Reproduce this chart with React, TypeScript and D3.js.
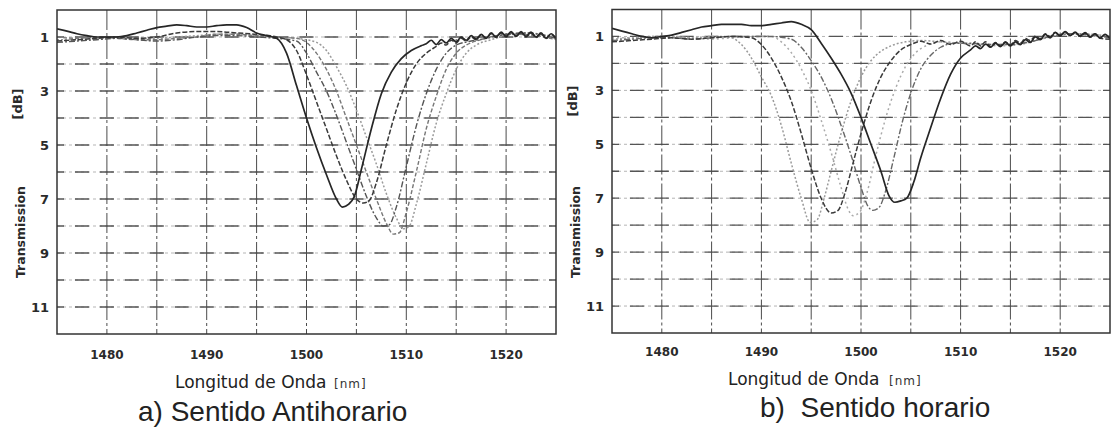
import React from "react";
import * as d3 from "d3";

// ---------- axes data ----------
const wavelengthDomain: [number, number] = [1475, 1525];
const transmissionDomain: [number, number] = [0, 12];
const wavelengthTicks = [1480, 1490, 1500, 1510, 1520];
const wavelengthGrid = [1480, 1485, 1490, 1495, 1500, 1505, 1510, 1515, 1520];
const transmissionTicks = [1, 3, 5, 7, 9, 11];
const transmissionGrid = [1, 2, 3, 4, 5, 6, 7, 8, 9, 10, 11];

const xAxisTitle = "Longitud de Onda";
const xAxisUnit = "[nm]";
const yAxisTitle = "Transmission";
const yAxisUnit = "[dB]";
const captionA = "a) Sentido Antihorario";
const captionB = "b)  Sentido horario";

// ---------- a) Sentido Antihorario : [wavelength nm, loss dB] ----------
const antiA1: [number, number][] = [
  [1475, 0.7], [1476, 0.78], [1477, 0.88], [1478, 0.95], [1479, 1.0], [1480, 1.0], [1481, 1.0],
  [1482, 0.95], [1483, 0.85], [1484, 0.75], [1485, 0.65], [1486, 0.6], [1487, 0.55], [1488, 0.58],
  [1489, 0.63], [1490, 0.63], [1491, 0.58], [1492, 0.55], [1493, 0.55], [1494, 0.65], [1495, 0.85],
  [1496, 0.95], [1497, 1.05], [1498, 1.6], [1499, 2.8], [1500, 4.0], [1501, 5.1], [1502, 6.1],
  [1503, 7.0], [1503.6, 7.3], [1504.2, 7.2], [1504.8, 6.9], [1505.5, 5.9], [1506.5, 4.4],
  [1507.5, 3.1], [1508.5, 2.3], [1509.5, 1.8], [1510.5, 1.5], [1511.5, 1.32], [1512, 1.25],
  [1512.5, 1.12], [1513, 1.28], [1513.5, 1.1], [1514, 1.22], [1514.5, 1.05], [1515, 1.18],
  [1515.5, 1.0], [1516, 1.12], [1516.5, 0.95], [1517, 1.08], [1517.5, 0.9], [1518, 1.05],
  [1518.5, 0.85], [1519, 1.0], [1519.5, 0.82], [1520, 0.98], [1520.5, 0.8], [1521, 0.97],
  [1521.5, 0.8], [1522, 0.98], [1522.5, 0.82], [1523, 1.0], [1523.5, 0.85], [1524, 1.05],
  [1524.5, 0.88], [1525, 1.05],
];
const antiA2: [number, number][] = [
  [1475, 1.15], [1477, 1.1], [1479, 1.05], [1481, 1.0], [1483, 1.05], [1485, 1.0], [1487, 0.85],
  [1489, 0.8], [1491, 0.8], [1493, 0.85], [1495, 0.9], [1497, 1.0], [1498, 1.1], [1499, 1.5],
  [1500, 2.4], [1501, 3.4], [1502, 4.4], [1503, 5.4], [1504, 6.3], [1505, 7.0], [1505.7, 7.15],
  [1506.3, 7.05], [1507, 6.4], [1508, 5.0], [1509, 3.7], [1510, 2.7], [1511, 2.0], [1512, 1.6],
  [1513, 1.35], [1513.5, 1.22], [1514, 1.3], [1514.5, 1.12], [1515, 1.22], [1515.5, 1.05],
  [1516, 1.15], [1516.5, 1.0], [1517, 1.1], [1517.5, 0.92], [1518, 1.05], [1518.5, 0.88],
  [1519, 1.02], [1519.5, 0.85], [1520, 1.0], [1520.5, 0.84], [1521, 0.98], [1521.5, 0.84],
  [1522, 1.0], [1522.5, 0.86], [1523, 1.02], [1523.5, 0.88], [1524, 1.06], [1524.5, 0.9],
  [1525, 1.08],
];
const antiA3: [number, number][] = [
  [1475, 1.2], [1477, 1.15], [1479, 1.1], [1481, 1.05], [1483, 1.1], [1485, 1.15], [1487, 1.1],
  [1489, 1.0], [1491, 0.95], [1493, 0.95], [1495, 1.0], [1497, 1.05], [1499, 1.15], [1500, 1.6],
  [1501, 2.3], [1502, 3.0], [1503, 3.9], [1504, 4.9], [1505, 5.9], [1506, 6.9], [1507, 7.7],
  [1507.7, 8.0], [1508.3, 7.95], [1509, 7.3], [1510, 5.8], [1511, 4.3], [1512, 3.1], [1513, 2.2],
  [1514, 1.6], [1515, 1.3], [1516.5, 1.15], [1518, 1.05], [1520, 0.9], [1522, 0.85], [1525, 1.05],
];
const antiA4: [number, number][] = [
  [1475, 1.0], [1477, 1.05], [1479, 1.0], [1481, 1.05], [1483, 1.1], [1485, 1.1], [1487, 1.05],
  [1489, 1.0], [1491, 0.9], [1493, 0.9], [1495, 0.95], [1497, 1.0], [1499, 1.05], [1500, 1.2],
  [1501, 1.6], [1502, 2.2], [1503, 3.0], [1504, 4.0], [1505, 5.0], [1506, 6.0], [1507, 7.0],
  [1508, 7.9], [1508.7, 8.3], [1509.3, 8.25], [1510, 7.5], [1511, 6.0], [1512, 4.4], [1513, 3.2],
  [1514, 2.2], [1515, 1.6], [1516, 1.3], [1517.5, 1.1], [1519, 0.95], [1521, 0.9], [1523, 0.95],
  [1525, 1.1],
];
const antiA5: [number, number][] = [
  [1475, 1.1], [1477, 1.1], [1479, 1.05], [1481, 1.0], [1483, 1.05], [1485, 1.05], [1487, 1.0],
  [1489, 0.95], [1491, 0.9], [1493, 0.9], [1495, 0.95], [1497, 1.0], [1499, 1.05], [1501, 1.2],
  [1502, 1.5], [1503, 2.1], [1504, 2.8], [1505, 3.7], [1506, 4.7], [1507, 5.7], [1508, 6.8],
  [1509, 7.7], [1509.7, 8.1], [1510.3, 8.0], [1511, 7.2], [1512, 5.7], [1513, 4.2], [1514, 3.1],
  [1515, 2.2], [1516, 1.6], [1517, 1.3], [1518.5, 1.1], [1520, 0.95], [1522, 0.85], [1525, 1.0],
];

// ---------- b) Sentido horario ----------
const horB1: [number, number][] = [
  [1475, 1.1], [1477, 1.05], [1479, 1.0], [1481, 1.0], [1483, 1.05], [1485, 1.0], [1486, 1.0],
  [1487, 1.05], [1488, 1.3], [1489, 1.8], [1490, 2.5], [1491, 3.2], [1492, 4.3], [1493, 5.7],
  [1494, 7.0], [1494.9, 7.9], [1495.6, 7.8], [1496.3, 7.0], [1497, 6.0], [1498, 4.6], [1499, 3.4],
  [1500, 2.5], [1501, 1.9], [1502, 1.55], [1503, 1.35], [1504.5, 1.2], [1506, 1.15], [1508, 1.2],
  [1510, 1.25], [1512, 1.3], [1514, 1.3], [1516, 1.25], [1518, 1.1], [1520, 0.95], [1522, 0.9],
  [1525, 1.0],
];
const horB2: [number, number][] = [
  [1475, 1.2], [1477, 1.15], [1479, 1.1], [1481, 1.05], [1483, 1.1], [1485, 1.05], [1487, 1.0],
  [1489, 1.05], [1490, 1.3], [1491, 1.8], [1492, 2.5], [1493, 3.4], [1494, 4.6], [1495, 5.9],
  [1496, 7.0], [1497, 7.55], [1497.7, 7.45], [1498.4, 6.8], [1499.2, 5.7], [1500, 4.6], [1501, 3.4],
  [1502, 2.5], [1503, 1.9], [1504, 1.5], [1505, 1.3], [1506, 1.18], [1507, 1.28], [1508, 1.15],
  [1509, 1.3], [1510, 1.18], [1511, 1.35], [1511.5, 1.2], [1512, 1.35], [1512.5, 1.2], [1513, 1.38],
  [1513.5, 1.22], [1514, 1.35], [1514.5, 1.2], [1515, 1.32], [1515.5, 1.15], [1516, 1.25],
  [1516.5, 1.08], [1517, 1.15], [1517.5, 0.98], [1518, 1.08], [1518.5, 0.9], [1519, 1.0],
  [1519.5, 0.85], [1520, 0.95], [1520.5, 0.83], [1521, 0.97], [1521.5, 0.86], [1522, 1.0],
  [1522.5, 0.88], [1523, 1.03], [1523.5, 0.9], [1524, 1.07], [1525, 1.1],
];
const horB3: [number, number][] = [
  [1475, 1.05], [1477, 1.05], [1479, 1.0], [1481, 1.0], [1483, 1.05], [1485, 1.1], [1487, 1.05],
  [1489, 1.0], [1491, 1.0], [1492, 1.2], [1493, 1.6], [1494, 2.2], [1495, 3.0], [1496, 4.1],
  [1497, 5.3], [1498, 6.6], [1498.7, 7.4], [1499.2, 7.65], [1499.9, 7.5], [1500.6, 6.8],
  [1501.5, 5.4], [1502.5, 4.0], [1503.5, 2.9], [1504.5, 2.1], [1505.5, 1.6], [1506.5, 1.35],
  [1508, 1.2], [1510, 1.25], [1512, 1.3], [1514, 1.35], [1516, 1.3], [1518, 1.1], [1520, 0.95],
  [1522, 0.9], [1525, 1.0],
];
const horB4: [number, number][] = [
  [1475, 1.15], [1477, 1.1], [1479, 1.05], [1481, 1.05], [1483, 1.1], [1485, 1.05], [1487, 1.0],
  [1489, 1.0], [1491, 1.0], [1493, 1.1], [1494, 1.4], [1495, 1.9], [1496, 2.5], [1497, 3.3],
  [1498, 4.3], [1499, 5.4], [1500, 6.6], [1500.7, 7.3], [1501.2, 7.45], [1501.8, 7.35],
  [1502.5, 6.7], [1503.3, 5.5], [1504.2, 4.1], [1505, 3.1], [1506, 2.2], [1507, 1.7], [1508, 1.4],
  [1509.5, 1.25], [1511, 1.25], [1513, 1.3], [1515, 1.3], [1517, 1.2], [1519, 1.0], [1521, 0.9],
  [1523, 0.95], [1525, 1.05],
];
const horB5: [number, number][] = [
  [1475, 0.7], [1476, 0.8], [1477, 0.9], [1478, 1.0], [1479, 1.05], [1480, 1.0], [1481, 0.95],
  [1482, 0.85], [1483, 0.75], [1484, 0.65], [1485, 0.6], [1486, 0.55], [1487, 0.55], [1488, 0.55],
  [1489, 0.6], [1490, 0.6], [1491, 0.55], [1492, 0.5], [1493, 0.45], [1494, 0.55], [1495, 0.75],
  [1496, 1.25], [1497, 1.8], [1498, 2.4], [1499, 3.1], [1500, 4.0], [1501, 5.0], [1502, 6.0],
  [1502.8, 6.9], [1503.4, 7.15], [1504, 7.1], [1504.6, 7.0], [1505.3, 6.4], [1506, 5.5],
  [1506.8, 4.6], [1508, 3.3], [1509, 2.4], [1510, 1.8], [1511, 1.5], [1511.5, 1.35], [1512, 1.45],
  [1512.5, 1.28], [1513, 1.4], [1513.5, 1.25], [1514, 1.38], [1514.5, 1.22], [1515, 1.35],
  [1515.5, 1.2], [1516, 1.3], [1516.5, 1.12], [1517, 1.22], [1517.5, 1.02], [1518, 1.12],
  [1518.5, 0.92], [1519, 1.05], [1519.5, 0.85], [1520, 0.98], [1520.5, 0.82], [1521, 0.96],
  [1521.5, 0.84], [1522, 0.98], [1522.5, 0.86], [1523, 1.02], [1523.5, 0.9], [1524, 1.06],
  [1524.5, 0.92], [1525, 1.08],
];

type Pt = [number, number];
type Series = { data: Pt[]; stroke: string; dash?: string; width: number };

const FONT_TICK = "DejaVu Sans, sans-serif";

type Layout = {
  id: string;
  left: number; right: number; top: number; bottom: number;
  tickLabelRight: number; xTickBaseline: number;
  titleStart: number; unitStart: number; titleBaseline: number;
  captionStart: number; captionBaseline: number;
  yTitleX: number; yTitleY: number; yUnitX: number; yUnitY: number;
  caption: string;
};

function Panel({ L, series }: { L: Layout; series: Series[] }) {
  const x = d3.scaleLinear().domain(wavelengthDomain).range([L.left, L.right]);
  const y = d3.scaleLinear().domain(transmissionDomain).range([L.top, L.bottom]);
  const line = d3
    .line<Pt>()
    .x((d) => x(d[0]))
    .y((d) => y(d[1]))
    .curve(d3.curveMonotoneX);
  const period = x(1477.5) - x(1475);
  const dashLen = 14;
  return (
    <g>
      <defs>
        <clipPath id={`clip-${L.id}`}>
          <rect x={L.left} y={L.top} width={L.right - L.left} height={L.bottom - L.top} />
        </clipPath>
      </defs>
      {transmissionGrid.map((v) => (
        <g key={`h${v}`}>
          <line x1={L.left} x2={L.right} y1={y(v)} y2={y(v)} stroke="#b5b5b5" strokeWidth={1} strokeDasharray="3 3" />
          <line
            x1={L.left} x2={L.right} y1={y(v)} y2={y(v)}
            stroke="#555" strokeWidth={1.3}
            strokeDasharray={`${dashLen} ${period - dashLen}`}
            strokeDashoffset={dashLen / 2}
          />
        </g>
      ))}
      {wavelengthGrid.map((v) => (
        <line key={`v${v}`} x1={x(v)} x2={x(v)} y1={L.top} y2={L.bottom} stroke="#4a4a4a" strokeWidth={1} strokeDasharray="20 3 3 3" />
      ))}
      <g clipPath={`url(#clip-${L.id})`}>
        {series.map((s, i) => (
          <path key={i} d={line(s.data) || ""} fill="none" stroke={s.stroke} strokeWidth={s.width} strokeDasharray={s.dash} strokeLinejoin="round" />
        ))}
      </g>
      <rect x={L.left} y={L.top} width={L.right - L.left} height={L.bottom - L.top} fill="none" stroke="#333" strokeWidth={1.5} />
      {transmissionTicks.map((v) => (
        <text key={`yt${v}`} x={L.tickLabelRight} y={y(v) + 5} textAnchor="end" fontFamily={FONT_TICK} fontWeight="bold" fontSize={13} fill="#2a2a2a">{v}</text>
      ))}
      {wavelengthTicks.map((v) => (
        <text key={`xt${v}`} x={x(v)} y={L.xTickBaseline} textAnchor="middle" fontFamily={FONT_TICK} fontWeight="bold" fontSize={12} fill="#2a2a2a">{v}</text>
      ))}
      <text x={L.titleStart} y={L.titleBaseline} fontFamily={FONT_TICK} fontSize={17} fill="#222">{xAxisTitle}</text>
      <text x={L.unitStart} y={L.titleBaseline} fontFamily={FONT_TICK} fontSize={12} fill="#333" letterSpacing={1}>{xAxisUnit}</text>
      <text transform={`translate(${L.yTitleX},${L.yTitleY}) rotate(-90)`} textAnchor="middle" dominantBaseline="central" fontFamily={FONT_TICK} fontWeight="bold" fontSize={12.5} fill="#2a2a2a">{yAxisTitle}</text>
      <text transform={`translate(${L.yUnitX},${L.yUnitY}) rotate(-90)`} textAnchor="middle" dominantBaseline="central" fontFamily={FONT_TICK} fontWeight="bold" fontSize={13} fill="#2a2a2a">{yAxisUnit}</text>
      <text x={L.captionStart} y={L.captionBaseline} fontFamily="Liberation Sans, Arial, sans-serif" fontSize={28} fill="#222" style={{ whiteSpace: "pre" }}>{L.caption}</text>
    </g>
  );
}

const layoutA: Layout = {
  id: "a", left: 57, right: 556, top: 10, bottom: 334,
  tickLabelRight: 49, xTickBaseline: 359,
  titleStart: 175, unitStart: 334, titleBaseline: 388,
  captionStart: 138, captionBaseline: 421,
  yTitleX: 20, yTitleY: 232, yUnitX: 17, yUnitY: 104,
  caption: captionA,
};
const layoutB: Layout = {
  id: "b", left: 612, right: 1110, top: 9.5, bottom: 333,
  tickLabelRight: 604, xTickBaseline: 356,
  titleStart: 728, unitStart: 889, titleBaseline: 385,
  captionStart: 760, captionBaseline: 417,
  yTitleX: 575, yTitleY: 232, yUnitX: 572, yUnitY: 101,
  caption: captionB,
};

export default function App() {
  const seriesA: Series[] = [
    { data: antiA5, stroke: "#9a9a9a", dash: "2 2", width: 1.5 },
    { data: antiA4, stroke: "#777", dash: "4 2", width: 1.4 },
    { data: antiA3, stroke: "#555", dash: "6 2 2 2", width: 1.4 },
    { data: antiA2, stroke: "#3a3a3a", dash: "5 2", width: 1.5 },
    { data: antiA1, stroke: "#262626", width: 1.7 },
  ];
  const seriesB: Series[] = [
    { data: horB1, stroke: "#9a9a9a", dash: "2 2", width: 1.5 },
    { data: horB3, stroke: "#aaa", dash: "2 3", width: 1.5 },
    { data: horB4, stroke: "#666", dash: "6 2 2 2", width: 1.4 },
    { data: horB2, stroke: "#3a3a3a", dash: "5 2", width: 1.5 },
    { data: horB5, stroke: "#262626", width: 1.7 },
  ];
  return (
    <svg width={1112} height={428} style={{ position: "absolute", left: 0, top: 0, background: "#fff" }}>
      <rect x={0} y={0} width={1112} height={428} fill="#fff" />
      <Panel L={layoutA} series={seriesA} />
      <Panel L={layoutB} series={seriesB} />
    </svg>
  );
}
